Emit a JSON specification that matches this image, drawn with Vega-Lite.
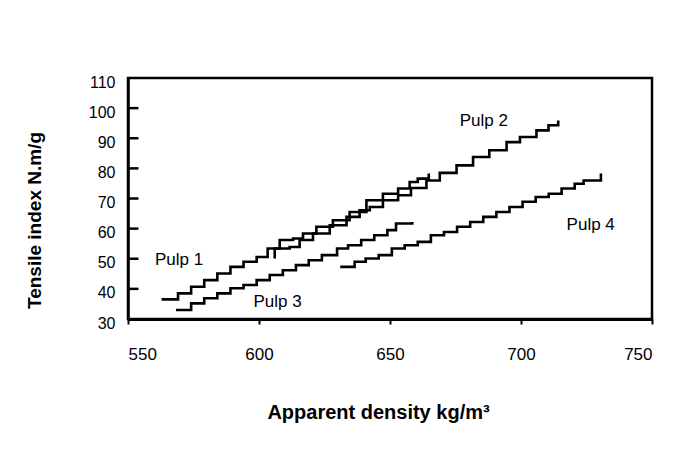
{
  "$schema": "https://vega.github.io/schema/vega-lite/v6.json",
  "autosize": "none",
  "width": 524,
  "height": 241,
  "padding": {"left": 128, "top": 78, "right": 31, "bottom": 141},
  "background": "white",
  "config": {
    "view": {"stroke": "black", "strokeWidth": 2.5},
    "font": "Liberation Sans",
    "axis": {"grid": false, "domainColor": "black", "tickColor": "black", "labelColor": "black", "titleColor": "black", "labelFont": "Liberation Sans", "titleFont": "Liberation Sans", "titleFontWeight": "bold"}
  },
  "datasets": {
    "curves": [
      {"pulp": "Pulp 1", "density": 562.8, "tensile": 36.5},
      {"pulp": "Pulp 1", "density": 566.6, "tensile": 36.5},
      {"pulp": "Pulp 1", "density": 569.1, "tensile": 38.5},
      {"pulp": "Pulp 1", "density": 574.1, "tensile": 40.7},
      {"pulp": "Pulp 1", "density": 579.1, "tensile": 42.9},
      {"pulp": "Pulp 1", "density": 584.1, "tensile": 45.1},
      {"pulp": "Pulp 1", "density": 589.1, "tensile": 47.3},
      {"pulp": "Pulp 1", "density": 594.1, "tensile": 49.0},
      {"pulp": "Pulp 1", "density": 599.1, "tensile": 50.6},
      {"pulp": "Pulp 1", "density": 603.3, "tensile": 53.4},
      {"pulp": "Pulp 1", "density": 607.9, "tensile": 56.2},
      {"pulp": "Pulp 1", "density": 613.0, "tensile": 56.7},
      {"pulp": "Pulp 1", "density": 616.8, "tensile": 58.4},
      {"pulp": "Pulp 1", "density": 621.9, "tensile": 60.6},
      {"pulp": "Pulp 1", "density": 628.2, "tensile": 62.8},
      {"pulp": "Pulp 1", "density": 634.6, "tensile": 65.5},
      {"pulp": "Pulp 1", "density": 641.0, "tensile": 69.4},
      {"pulp": "Pulp 1", "density": 647.3, "tensile": 71.6},
      {"pulp": "Pulp 1", "density": 653.1, "tensile": 73.3},
      {"pulp": "Pulp 1", "density": 657.5, "tensile": 75.5},
      {"pulp": "Pulp 1", "density": 660.6, "tensile": 76.6},
      {"pulp": "Pulp 1", "density": 664.8, "tensile": 78.3},

      {"pulp": "Pulp 2", "density": 606.0, "tensile": 50.1},
      {"pulp": "Pulp 2", "density": 606.0, "tensile": 53.4},
      {"pulp": "Pulp 2", "density": 611.7, "tensile": 53.9},
      {"pulp": "Pulp 2", "density": 615.5, "tensile": 56.2},
      {"pulp": "Pulp 2", "density": 620.6, "tensile": 58.4},
      {"pulp": "Pulp 2", "density": 627.0, "tensile": 61.1},
      {"pulp": "Pulp 2", "density": 633.4, "tensile": 63.9},
      {"pulp": "Pulp 2", "density": 638.4, "tensile": 66.1},
      {"pulp": "Pulp 2", "density": 642.3, "tensile": 67.2},
      {"pulp": "Pulp 2", "density": 647.3, "tensile": 69.4},
      {"pulp": "Pulp 2", "density": 653.1, "tensile": 71.1},
      {"pulp": "Pulp 2", "density": 658.0, "tensile": 73.5},
      {"pulp": "Pulp 2", "density": 663.9, "tensile": 76.0},
      {"pulp": "Pulp 2", "density": 669.0, "tensile": 78.5},
      {"pulp": "Pulp 2", "density": 675.4, "tensile": 81.0},
      {"pulp": "Pulp 2", "density": 681.7, "tensile": 83.8},
      {"pulp": "Pulp 2", "density": 687.9, "tensile": 86.0},
      {"pulp": "Pulp 2", "density": 694.5, "tensile": 88.7},
      {"pulp": "Pulp 2", "density": 699.6, "tensile": 90.4},
      {"pulp": "Pulp 2", "density": 705.9, "tensile": 92.6},
      {"pulp": "Pulp 2", "density": 710.5, "tensile": 94.3},
      {"pulp": "Pulp 2", "density": 714.2, "tensile": 95.9},

      {"pulp": "Pulp 3", "density": 568.3, "tensile": 33.0},
      {"pulp": "Pulp 3", "density": 571.6, "tensile": 33.0},
      {"pulp": "Pulp 3", "density": 574.1, "tensile": 35.2},
      {"pulp": "Pulp 3", "density": 579.1, "tensile": 36.9},
      {"pulp": "Pulp 3", "density": 584.1, "tensile": 38.5},
      {"pulp": "Pulp 3", "density": 589.1, "tensile": 40.2},
      {"pulp": "Pulp 3", "density": 594.1, "tensile": 41.3},
      {"pulp": "Pulp 3", "density": 599.1, "tensile": 42.9},
      {"pulp": "Pulp 3", "density": 604.1, "tensile": 44.6},
      {"pulp": "Pulp 3", "density": 609.1, "tensile": 46.2},
      {"pulp": "Pulp 3", "density": 614.1, "tensile": 47.9},
      {"pulp": "Pulp 3", "density": 619.0, "tensile": 49.5},
      {"pulp": "Pulp 3", "density": 624.0, "tensile": 51.2},
      {"pulp": "Pulp 3", "density": 629.8, "tensile": 53.4},
      {"pulp": "Pulp 3", "density": 634.0, "tensile": 54.5},
      {"pulp": "Pulp 3", "density": 639.0, "tensile": 56.2},
      {"pulp": "Pulp 3", "density": 644.0, "tensile": 57.8},
      {"pulp": "Pulp 3", "density": 649.0, "tensile": 59.5},
      {"pulp": "Pulp 3", "density": 652.3, "tensile": 61.7},
      {"pulp": "Pulp 3", "density": 658.5, "tensile": 62.2},

      {"pulp": "Pulp 4", "density": 631.0, "tensile": 47.3},
      {"pulp": "Pulp 4", "density": 634.9, "tensile": 47.3},
      {"pulp": "Pulp 4", "density": 636.5, "tensile": 49.0},
      {"pulp": "Pulp 4", "density": 640.7, "tensile": 50.1},
      {"pulp": "Pulp 4", "density": 645.7, "tensile": 51.2},
      {"pulp": "Pulp 4", "density": 650.7, "tensile": 53.4},
      {"pulp": "Pulp 4", "density": 655.6, "tensile": 54.5},
      {"pulp": "Pulp 4", "density": 660.6, "tensile": 55.6},
      {"pulp": "Pulp 4", "density": 665.6, "tensile": 57.8},
      {"pulp": "Pulp 4", "density": 670.6, "tensile": 58.9},
      {"pulp": "Pulp 4", "density": 675.6, "tensile": 60.6},
      {"pulp": "Pulp 4", "density": 680.6, "tensile": 62.2},
      {"pulp": "Pulp 4", "density": 685.6, "tensile": 63.9},
      {"pulp": "Pulp 4", "density": 690.6, "tensile": 65.5},
      {"pulp": "Pulp 4", "density": 695.6, "tensile": 67.2},
      {"pulp": "Pulp 4", "density": 700.6, "tensile": 68.9},
      {"pulp": "Pulp 4", "density": 705.6, "tensile": 70.5},
      {"pulp": "Pulp 4", "density": 710.6, "tensile": 71.6},
      {"pulp": "Pulp 4", "density": 715.5, "tensile": 73.3},
      {"pulp": "Pulp 4", "density": 720.5, "tensile": 74.9},
      {"pulp": "Pulp 4", "density": 723.9, "tensile": 76.0},
      {"pulp": "Pulp 4", "density": 728.9, "tensile": 76.0},
      {"pulp": "Pulp 4", "density": 730.5, "tensile": 78.3}
    ],
    "labels": [
      {"text": "Pulp 1", "density": 560.3, "tensile": 49.5},
      {"text": "Pulp 2", "density": 676.6, "tensile": 95.7},
      {"text": "Pulp 3", "density": 597.9, "tensile": 35.7},
      {"text": "Pulp 4", "density": 717.4, "tensile": 61.1}
    ],
    "yticks": [
      {"density": 550, "end": 554, "tensile": 40},
      {"density": 550, "end": 554, "tensile": 50},
      {"density": 550, "end": 554, "tensile": 60},
      {"density": 550, "end": 554, "tensile": 70},
      {"density": 550, "end": 554, "tensile": 80},
      {"density": 550, "end": 554, "tensile": 90},
      {"density": 550, "end": 554, "tensile": 100}
    ]
  },
  "encoding": {
    "x": {"field": "density", "type": "quantitative",
          "scale": {"domain": [550, 750], "nice": false, "zero": false},
          "axis": {"values": [550, 600, 650, 700, 750], "title": "Apparent density kg/m³", "titleFontSize": 20, "labelFontSize": 17, "labelOverlap": false, "domainWidth": 3, "tickSize": 5, "tickWidth": 2, "labelPadding": 22, "titlePadding": 40, "titleX": 250}},
    "y": {"field": "tensile", "type": "quantitative",
          "scale": {"domain": [30, 110], "nice": false, "zero": false},
          "axis": {"values": [30, 40, 50, 60, 70, 80, 90, 100, 110], "title": "Tensile index N.m/g", "titleFontSize": 19, "labelFontSize": 16, "labelOverlap": false, "labelOffset": 4, "domainWidth": 2.5, "ticks": false, "labelPadding": 13, "titlePadding": 44, "titleY": 142}}
  },
  "layer": [
    {
      "data": {"name": "curves"},
      "mark": {"type": "line", "interpolate": "step-after", "color": "black", "strokeWidth": 2.6},
      "encoding": {
        "detail": {"field": "pulp"}
      }
    },
    {
      "data": {"name": "yticks"},
      "mark": {"type": "rule", "color": "black", "strokeWidth": 2.5},
      "encoding": {
        "x2": {"field": "end"}
      }
    },
    {
      "data": {"name": "labels"},
      "mark": {"type": "text", "align": "left", "baseline": "middle", "font": "Liberation Sans", "fontSize": 17, "color": "black"},
      "encoding": {
        "text": {"field": "text"}
      }
    }
  ]
}
